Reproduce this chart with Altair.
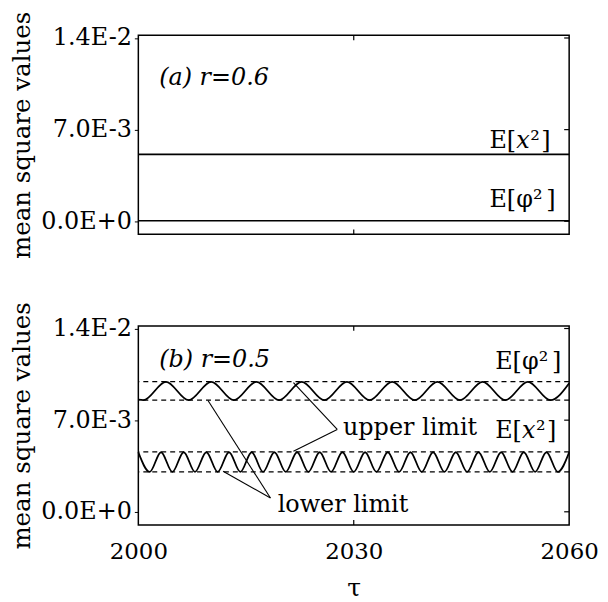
import altair as alt
import pandas as pd

# ---------------- data ----------------
T_MIN, T_MAX = 2000, 2060
Y_MIN, Y_MAX = -0.001, 0.0142
Y_TICKS = [0.0, 0.007, 0.014]
Y_TICK_LABELS = ["0.0E+0", "7.0E-3", "1.4E-2"]
X_TICKS = [2000, 2030, 2060]
X_INNER_TICKS = [2030]

# panel (a): r = 0.6, both mean square values constant
A_LEVELS = [0.00511, 0.00004]

# panel (b): r = 0.5, E[phi^2] extrema (time, value)
PHI_T = [2000.0, 2000.7, 2003.85, 2007.0, 2010.15, 2013.3, 2016.45, 2019.6,
         2022.75, 2025.9, 2029.05, 2032.2, 2035.35, 2038.5, 2041.65, 2044.8,
         2047.95, 2051.1, 2054.25, 2057.4, 2060.0]
PHI_V = [0.00856, 0.00853, 0.00993, 0.00853, 0.00993, 0.00853, 0.00993, 0.00853,
         0.00993, 0.00853, 0.00993, 0.00853, 0.00993, 0.00853, 0.00993, 0.00853,
         0.00993, 0.00853, 0.00993, 0.00853, 0.00982]

# panel (b): E[x^2] extrema (time, value)
X2_T = [2000.0, 2001.58, 2003.16, 2004.74, 2006.32, 2007.89, 2009.47, 2011.05,
        2012.63, 2014.21, 2015.79, 2017.37, 2018.95, 2020.53, 2022.11, 2023.68,
        2025.26, 2026.84, 2028.42, 2030.0, 2031.58, 2033.16, 2034.74, 2036.32,
        2037.89, 2039.47, 2041.05, 2042.63, 2044.21, 2045.79, 2047.37, 2048.95,
        2050.53, 2052.11, 2053.68, 2055.26, 2056.84, 2058.42, 2060.0]
X2_V = [0.00455, 0.00305] * 19 + [0.00455]

# dashed upper / lower limits in panel (b)
LIMITS = [0.00994, 0.00853, 0.00457, 0.00305]

# annotation leader lines (t1, v1) -> (t2, v2)
LEAD_T1 = [2027.7, 2027.7, 2018.4, 2018.4]
LEAD_V1 = [0.00629, 0.00629, 0.00105, 0.00105]
LEAD_T2 = [2021.6, 2021.6, 2009.7, 2011.8]
LEAD_V2 = [0.00986, 0.00462, 0.00850, 0.00310]

ANNOT_TEXT = ["upper limit", "lower limit"]
ANNOT_T = [2028.5, 2019.4]
ANNOT_V = [0.00584, 0.0]

W, H = 433, 200
SERIF = "DejaVu Serif"

x_scale = alt.Scale(domain=[T_MIN, T_MAX], nice=False, zero=False)
y_scale = alt.Scale(domain=[Y_MIN, Y_MAX], nice=False, zero=False)

label_expr = " : ".join(
    f"abs(datum.value - {v}) < 1e-9 ? '{l}'" for v, l in zip(Y_TICKS, Y_TICK_LABELS)
) + " : ''"

y_axis = alt.Axis(values=Y_TICKS, labelExpr=label_expr, tickSize=4, labelPadding=3,
                  domain=False, grid=False, title="mean square values",
                  titleFont=SERIF, titleFontSize=24.6, titleFontWeight="normal",
                  titlePadding=6, labelFont=SERIF, labelFontSize=24,
                  tickColor="black", labelColor="black", titleColor="black")


def ticks_layers():
    xt = pd.DataFrame({"t": X_INNER_TICKS})
    yt = pd.DataFrame({"v": Y_TICKS})
    top = alt.Chart(xt).mark_rule(color="black", strokeWidth=1.2).encode(
        x=alt.X("t:Q", scale=x_scale), y=alt.value(0), y2=alt.value(5))
    bot = alt.Chart(xt).mark_rule(color="black", strokeWidth=1.2).encode(
        x=alt.X("t:Q", scale=x_scale), y=alt.value(H - 5), y2=alt.value(H))
    right = alt.Chart(yt).mark_rule(color="black", strokeWidth=1.2).encode(
        y=alt.Y("v:Q", scale=y_scale), x=alt.value(W - 5), x2=alt.value(W))
    return [top, bot, right]


def e_label(t, v, var):
    """E[var^2] label made of pieces, var italic for x."""
    d = pd.DataFrame({"t": [t], "v": [v]})
    enc = dict(x=alt.X("t:Q", scale=x_scale), y=alt.Y("v:Q", scale=y_scale))
    base = dict(font=SERIF, fontSize=24, align="left", baseline="alphabetic", color="black")
    if var == "x":
        parts = [("E[", 0, "normal"), ("x", 27, "italic"), ("\u00b2", 41, "normal"), ("]", 52, "normal")]
    else:
        parts = [("E[", 0, "normal"), ("\u03c6\u00b2", 27, "normal"), ("]", 57, "normal")]
    return [alt.Chart(d).mark_text(text=s, dx=dx, fontStyle=st, **base).encode(**enc)
            for s, dx, st in parts]


def panel_label(t, v, text):
    d = pd.DataFrame({"t": [t], "v": [v]})
    return alt.Chart(d).mark_text(text=text, font=SERIF, fontSize=24, fontStyle="italic",
                                  align="left", baseline="alphabetic", color="black").encode(
        x=alt.X("t:Q", scale=x_scale), y=alt.Y("v:Q", scale=y_scale))


# ---------------- panel (a) ----------------
a_df = pd.DataFrame({"v": A_LEVELS})
a_lines = alt.Chart(a_df).mark_rule(color="black", strokeWidth=1.6).encode(
    y=alt.Y("v:Q", scale=y_scale, axis=y_axis))
a_x = alt.Chart(pd.DataFrame({"t": [T_MIN, T_MAX]})).mark_point(opacity=0).encode(
    x=alt.X("t:Q", scale=x_scale, axis=None))

top = alt.layer(
    a_lines, a_x,
    *ticks_layers(),
    panel_label(2002.9, 0.01043, "(a) r=0.6"),
    *e_label(2048.9, 0.00559, "x"),
    *e_label(2048.9, 0.00110, "phi"),
).properties(width=W, height=H)

# ---------------- panel (b) ----------------
phi_df = pd.DataFrame({"t": PHI_T, "v": PHI_V})
x2_df = pd.DataFrame({"t": X2_T, "v": X2_V})
lim_df = pd.DataFrame({"v": LIMITS})
lead_df = pd.DataFrame({"t1": LEAD_T1, "v1": LEAD_V1, "t2": LEAD_T2, "v2": LEAD_V2})
ann_df = pd.DataFrame({"t": ANNOT_T, "v": ANNOT_V, "label": ANNOT_TEXT})

x_axis = alt.Axis(values=X_TICKS, format="d", ticks=False, domain=False, grid=False,
                  labelPadding=16, labelFlush=False, labelOverlap=False, labelBound=False,
                  labelFont=SERIF, labelFontSize=23, labelColor="black",
                  title="\u03c4", titleFont=SERIF, titleFontSize=25, titleFontWeight="normal",
                  titlePadding=12, titleColor="black")

b_lim = alt.Chart(lim_df).mark_rule(color="black", strokeWidth=1.2, strokeDash=[5, 4]).encode(
    y=alt.Y("v:Q", scale=y_scale, axis=y_axis))
b_phi = alt.Chart(phi_df).mark_line(color="black", strokeWidth=1.8, interpolate="monotone").encode(
    x=alt.X("t:Q", scale=x_scale, axis=x_axis), y=alt.Y("v:Q", scale=y_scale))
b_x2 = alt.Chart(x2_df).mark_line(color="black", strokeWidth=1.8, interpolate="monotone").encode(
    x=alt.X("t:Q", scale=x_scale), y=alt.Y("v:Q", scale=y_scale))
b_lead = alt.Chart(lead_df).mark_rule(color="black", strokeWidth=1.1).encode(
    x=alt.X("t1:Q", scale=x_scale), y=alt.Y("v1:Q", scale=y_scale),
    x2="t2:Q", y2="v2:Q")
b_ann = alt.Chart(ann_df).mark_text(font=SERIF, fontSize=24, align="left",
                                     baseline="alphabetic", color="black").encode(
    x=alt.X("t:Q", scale=x_scale), y=alt.Y("v:Q", scale=y_scale), text="label:N")

bottom = alt.layer(
    b_lim, b_phi, b_x2, b_lead, b_ann,
    *ticks_layers(),
    panel_label(2002.9, 0.01108, "(b) r=0.5"),
    *e_label(2049.7, 0.01094, "phi"),
    *e_label(2049.7, 0.00563, "x"),
).properties(width=W, height=H)

chart = alt.vconcat(top, bottom, spacing=40).properties(
    padding={"left": 1, "top": 0, "right": 0, "bottom": 0},
    background="white",
).configure_view(stroke="black", strokeWidth=1.5)

chart.save("out.html", embed_options={"renderer": "svg", "actions": False})
